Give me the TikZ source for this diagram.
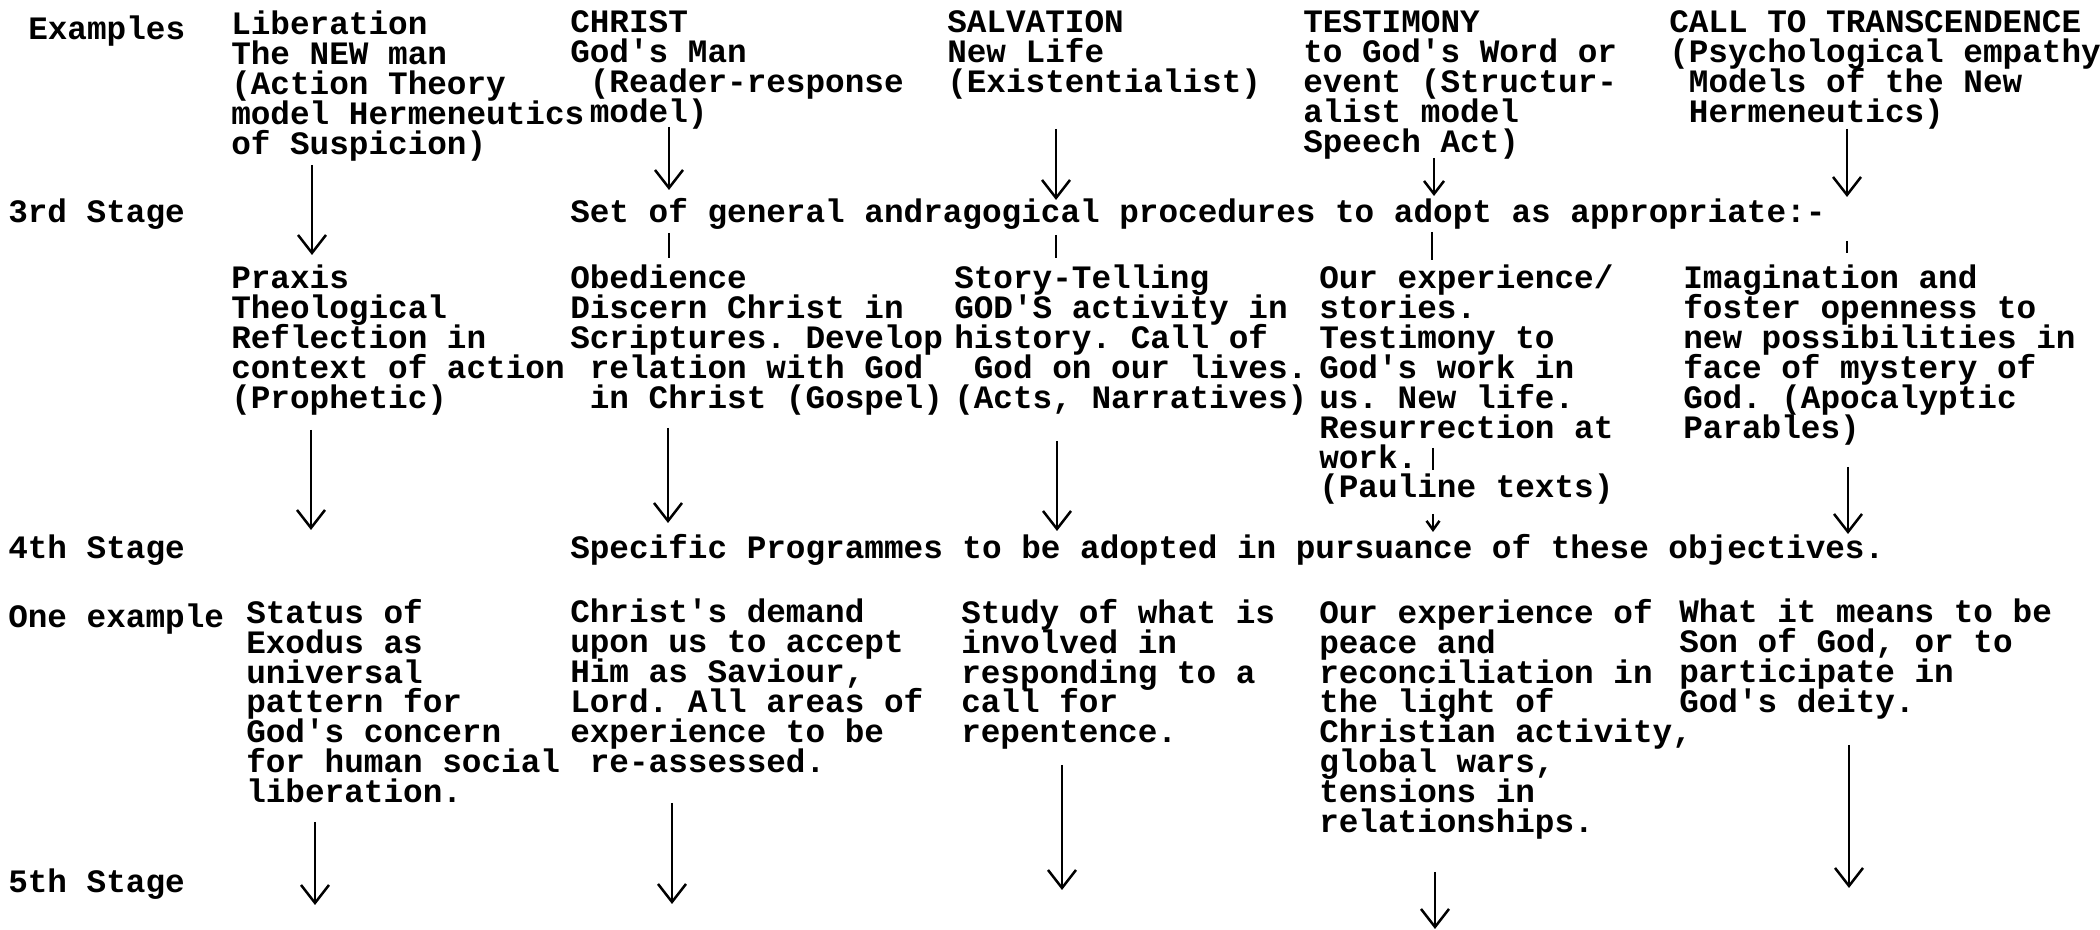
\documentclass[tikz,border=0pt]{standalone}
\usepackage{fontspec}
\setmonofont{Liberation Mono}
\usetikzlibrary{arrows.meta}
\newcommand\typed{\fontsize{9.3pt}{8.5pt}\selectfont\ttfamily\bfseries\lineskiplimit=-\maxdimen}
\newcommand\onespace{\hphantom{x}}
\tikzset{
	typed/.style={anchor=north west, yshift=8pt, align=left, inner sep=0pt, font=\typed, execute at begin node={\rule{0pt}{8pt}}},
	down/.style={-{Straight Barb[length=1.8mm,width=2.8mm]}},
	downsmall/.style={-{Straight Barb[length=1.3mm,width=2mm]}},
	downtiny/.style={-{Straight Barb[length=0.9mm,width=1.3mm]}}
}

\begin{document}
\begin{tikzpicture}[x=0.1mm,y=-0.1mm,line width=0.25mm]
				\useasboundingbox (0,0) rectangle (2100,930);
				
				\node[typed] (lblex) at (27,38) {Examples};
				\node[typed] (hlib) at (230,38) {Liberation\\The NEW man\\(Action Theory\\model Hermeneutics\\of Suspicion)};
				\node[typed] (hchr) at (569,38) {CHRIST\\God's Man\\\onespace(Reader-response\\\onespace model)};
				\node[typed] (hsal) at (946,38) {SALVATION\\New Life\\(Existentialist)};
				\node[typed] (htes) at (1302,38) {TESTIMONY\\to God's Word or\\event (Structur-\\alist model\\Speech Act)};
				\node[typed] (hcal) at (1668,38) {CALL TO TRANSCENDENCE\\(Psychological empathy\\\onespace Models of the New\\\onespace Hermeneutics)};
				
				\node[typed] (lbl3) at (7,221) {3rd Stage};
				\node[typed] (proc) at (569,221) {Set of general andragogical procedures to adopt as appropriate:-};
				
				\node[typed] (plib) at (230,292) {Praxis\\Theological\\Reflection in\\context of action\\(Prophetic)};
				\node[typed] (pchr) at (569,292) {Obedience\\Discern Christ in\\Scriptures. Develop\\\onespace relation with God\\\onespace in Christ (Gospel)};
				\node[typed] (psal) at (953,292) {Story-Telling\\GOD'S activity in\\history. Call of\\\onespace God on our lives.\\(Acts, Narratives)};
				\node[typed] (ptes) at (1318,292) {Our experience/\\stories.\\Testimony to\\God's work in\\us. New life.\\Resurrection at\\work.\\(Pauline texts)};
				\node[typed] (pcal) at (1682,292) {Imagination and\\foster openness to\\new possibilities in\\face of mystery of\\God. (Apocalyptic\\Parables)};
				
				\node[typed] (lbl4) at (7,557) {4th Stage};
				\node[typed] (prog) at (569,557) {Specific Programmes to be adopted in pursuance of these objectives.};
				
				\node[typed] (lblone) at (7,626) {One example};
				\node[typed] (elib) at (245,626) {Status of\\Exodus as\\universal\\pattern for\\God's concern\\for human social\\liberation.};
				\node[typed] (echr) at (569,626) {Christ's demand\\upon us to accept\\Him as Saviour,\\Lord. All areas of\\experience to be\\\onespace re-assessed.};
				\node[typed] (esal) at (960,626) {Study of what is\\involved in\\responding to a\\call for\\repentence.};
				\node[typed] (etes) at (1318,626) {Our experience of\\peace and\\reconciliation in\\the light of\\Christian activity,\\global wars,\\tensions in\\relationships.};
				\node[typed] (ecal) at (1678,626) {What it means to be\\Son of God, or to\\participate in\\God's deity.};
				
				\node[typed] (lbl5) at (7,891) {5th Stage};
				
				\foreach \n/\x/\ya/\yb in {la/312/165/255, ca/669/127/190, sa/1056/129/200, ea/1847/129/197, lb/311/430/530, cb/668/428/523, sb/1057/441/531, eb/1848/467/534, lc/315/822/905, cc/672/803/904, sc/1062/765/890, tc/1435/872/929, ec/1849/745/888}
				{
					\coordinate (\n1) at (\x,\ya);
					\coordinate (\n2) at (\x,\yb);
					\draw[down] (\n1) -- (\n2);
				}
				\foreach \n/\x/\ya/\yb in {ct/669/233/258, st/1056/235/258, tt/1432/232/260, et/1847/241/253, tm/1433/448/470}
				{
					\coordinate (\n1) at (\x,\ya);
					\coordinate (\n2) at (\x,\yb);
					\draw (\n1) -- (\n2);
				}
				\coordinate (ta1) at (1434,158);
				\coordinate (ta2) at (1434,196);
				\draw[downsmall] (ta1) -- (ta2);
				\coordinate (tp1) at (1433,514);
				\coordinate (tp2) at (1433,532);
				\draw[downtiny] (tp1) -- (tp2);
\end{tikzpicture}
\end{document}
